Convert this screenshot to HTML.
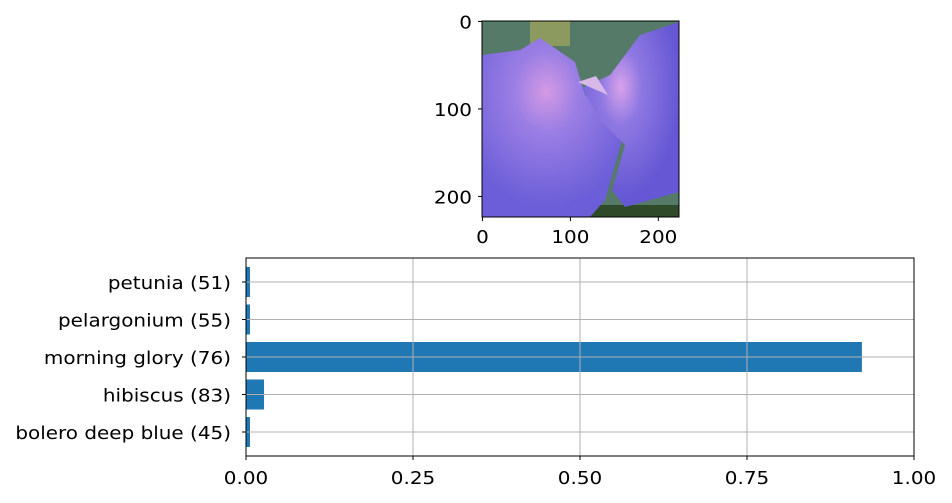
<!DOCTYPE html>
<html><head><meta charset="utf-8"><style>
html,body{margin:0;padding:0;background:#fff;}
svg{display:block;font-family:"DejaVu Sans","Liberation Sans",sans-serif;}
</style></head><body>
<svg id="fig" width="952" height="503" viewBox="0 0 952 503">
<defs>
<clipPath id="imgclip"><rect x="482" y="21" width="197" height="196"/></clipPath>
<radialGradient id="pink1" cx="0.45" cy="0.3" r="0.65"><stop offset="0" stop-color="#d49ae4"/><stop offset="0.35" stop-color="#9a7ee4"/><stop offset="1" stop-color="#6b5ed8"/></radialGradient>
<radialGradient id="pink2" cx="0.4" cy="0.35" r="0.6"><stop offset="0" stop-color="#d8a2ea"/><stop offset="0.35" stop-color="#8e78e2"/><stop offset="1" stop-color="#6658d4"/></radialGradient>
</defs>
<g clip-path="url(#imgclip)">
<rect x="482" y="21" width="197" height="196" fill="#557a68"/>
<rect x="530" y="21" width="40" height="25" fill="#8c9a60"/>
<rect x="482" y="205" width="197" height="12" fill="#2f4a28"/>
<path d="M482 55 L520 50 L540 38 L575 62 L585 95 L625 130 L605 200 L590 217 L482 217 Z" fill="url(#pink1)"/>
<path d="M582 88 L610 75 L640 35 L679 22 L679 192 L625 207 L612 190 L625 145 L600 120 Z" fill="url(#pink2)"/>
<path d="M578 82 L596 76 L608 95 Z" fill="#d8b8e8"/>
</g>
<g id="imgaxes"></g>
<g id="baraxes"></g>
</svg>
<script>
const categories = ["bolero deep blue (45)", "hibiscus (83)", "morning glory (76)", "pelargonium (55)", "petunia (51)"];
const probabilities = [0.006, 0.027, 0.922, 0.006, 0.006];
const xTicks = [0, 0.25, 0.5, 0.75, 1.0];
const xTickLabels = ["0.00", "0.25", "0.50", "0.75", "1.00"];
const imgTicks = [0, 100, 200];

const NS = "http://www.w3.org/2000/svg";
const FS = 17.5, STRETCH = 1.14;
function mk(tag, attrs, parent, text) {
  const e = document.createElementNS(NS, tag);
  for (const k in attrs) e.setAttribute(k, attrs[k]);
  if (text !== undefined) e.textContent = text;
  parent.appendChild(e);
  if (tag === 'text') {
    const w = e.getComputedTextLength();
    if (w > 0) { e.setAttribute('textLength', w * STRETCH); e.setAttribute('lengthAdjust', 'spacingAndGlyphs'); }
  }
  return e;
}
// image axes
const ia = document.getElementById('imgaxes');
const iL = 482, iT = 21, iW = 197, iH = 196;
const ix = v => iL + (v + 0.5) / 224 * iW;
const iy = v => iT + (v + 0.5) / 224 * iH;
imgTicks.forEach(t => {
  let l = mk('line', {x1: ix(t), x2: ix(t), y1: iT + iH, y2: iT + iH + 4, stroke: '#000', 'stroke-width': 1}, ia);
  
  
  let tx = mk('text', {x: ix(t), y: iT + iH + 26, 'text-anchor': 'middle', 'font-size': FS}, ia, String(t));
  
  
  let l2 = mk('line', {x1: iL - 4, x2: iL, y1: iy(t), y2: iy(t), stroke: '#000', 'stroke-width': 1}, ia);
  
  
  let ty = mk('text', {x: iL - 10, y: iy(t) + 7, 'text-anchor': 'end', 'font-size': FS}, ia, String(t));
  
  
});
let ib = mk('rect', {x: iL, y: iT, width: iW, height: iH, fill: 'none', stroke: '#000', 'stroke-width': 1}, ia);



// bar axes
const ba = document.getElementById('baraxes');
const L = 246, T = 258, W = 668, H = 198;
const yMin = -0.64, yMax = 4.64;
const x = v => L + v * W;
const y = i => T + (yMax - i) / (yMax - yMin) * H;
const bw = 0.8;
categories.forEach((c, i) => {
  let r = mk('rect', {x: x(0), y: y(i + bw / 2), width: x(probabilities[i]) - x(0), height: y(i - bw / 2) - y(i + bw / 2), fill: '#1f77b4'}, ba);
  
  
});
xTicks.forEach((t, k) => {
  let g = mk('line', {x1: x(t), x2: x(t), y1: T, y2: T + H, stroke: '#b0b0b0', 'stroke-width': 1}, ba);
  
  
  let l = mk('line', {x1: x(t), x2: x(t), y1: T + H, y2: T + H + 4, stroke: '#000', 'stroke-width': 1}, ba);
  
  
  let tx = mk('text', {x: x(t), y: T + H + 28, 'text-anchor': 'middle', 'font-size': FS}, ba, xTickLabels[k]);
  
  
});
categories.forEach((c, i) => {
  let g = mk('line', {x1: L, x2: L + W, y1: y(i), y2: y(i), stroke: '#b0b0b0', 'stroke-width': 1}, ba);
  
  
  let l = mk('line', {x1: L - 4, x2: L, y1: y(i), y2: y(i), stroke: '#000', 'stroke-width': 1}, ba);
  
  
  let tx = mk('text', {x: L - 15, y: y(i) + 7, 'text-anchor': 'end', 'font-size': FS}, ba, c);
  
  
});
let fr = mk('rect', {x: L, y: T, width: W, height: H, fill: 'none', stroke: '#000', 'stroke-width': 1}, ba);


</script>
</body></html>
